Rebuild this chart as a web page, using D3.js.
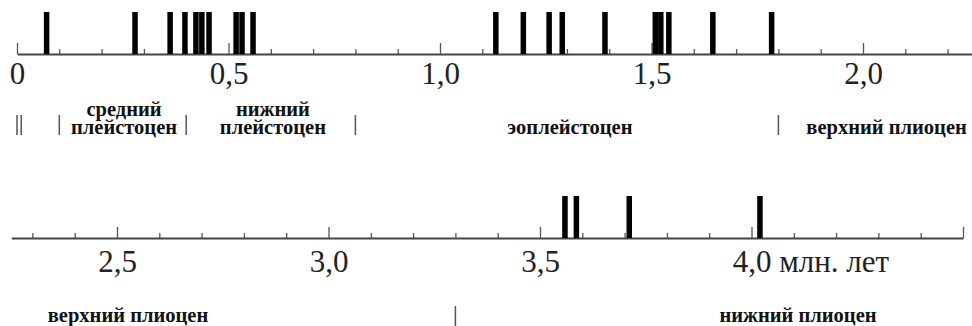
<!DOCTYPE html>
<html>
<head>
<meta charset="utf-8">
<script src="https://cdn.jsdelivr.net/npm/d3@7"></script>
<style>
  html, body { margin: 0; padding: 0; background: #fff; }
  svg { display: block; }
</style>
</head>
<body>
<svg id="chart" width="972" height="326"></svg>
<script>
// ---------- DATA ----------
// Event ages (million years) shown as black bars
const topEvents = [0.070, 0.279, 0.362, 0.397, 0.423, 0.437, 0.454, 0.518, 0.532, 0.558,
                   1.132, 1.197, 1.258, 1.289, 1.390, 1.509, 1.522, 1.541, 1.645, 1.784];
const bottomEvents = [3.559, 3.586, 3.711, 4.020];

// Axis ticks
const topDomain = [0, 2.26];
const bottomDomain = [2.25, 4.5];
const topMajorTicks = [0, 0.5, 1.0, 1.5, 2.0];
const topMajorLabels = ["0", "0,5", "1,0", "1,5", "2,0"];
const topMinorTicks = [0.1, 0.2, 0.3, 0.4, 0.6, 0.7, 0.8, 0.9, 1.1, 1.2, 1.3, 1.4, 1.6, 1.7, 1.8, 1.9, 2.1, 2.2];
const bottomMajorTicks = [2.5, 3.0, 3.5, 4.0, 4.5];
const bottomMajorLabels = ["2,5", "3,0", "3,5", "4,0", ""];
const bottomMinorTicks = [2.3, 2.4, 2.6, 2.7, 2.8, 2.9, 3.1, 3.2, 3.3, 3.4, 3.6, 3.7, 3.8, 3.9, 4.1, 4.2, 4.3, 4.4];
const unitLabel = "млн. лет";
const unitAfterTick = 4.0;

// Stratigraphic boundaries and period names
const topBoundaries = [0, 0.01, 0.1, 0.4, 0.8, 1.8];
const bottomBoundaries = [3.3];
const topPeriodNames = [["средний", "плейстоцен"], ["нижний", "плейстоцен"], ["эоплейстоцен"], ["верхний плиоцен"]];
const topPeriodPos = [0.253, 0.605, 1.307, 1.866];
const topPeriodAnchor = ["middle", "middle", "middle", "start"];
const bottomPeriodNames = [["верхний плиоцен"], ["нижний плиоцен"]];
const bottomPeriodPos = [2.526, 4.110];
const bottomPeriodAnchor = ["middle", "middle"];

// ---------- DRAW ----------
const FONT = "Liberation Serif";
const svg = d3.select("#chart");
const PX = 423; // px per million years

const rows = [
  { domain: topDomain, x0: 17, axisY: 54, events: topEvents,
    major: topMajorTicks, majorLabels: topMajorLabels, minor: topMinorTicks,
    labelPad: 8, bounds: topBoundaries, boundY: [115, 135],
    periods: topPeriodNames, periodPos: topPeriodPos, periodAnchor: topPeriodAnchor, periodBase: 134 },
  { domain: bottomDomain, x0: 11.25, axisY: 238, events: bottomEvents,
    major: bottomMajorTicks, majorLabels: bottomMajorLabels, minor: bottomMinorTicks,
    labelPad: 12, bounds: bottomBoundaries, boundY: [306, 326],
    periods: bottomPeriodNames, periodPos: bottomPeriodPos, periodAnchor: bottomPeriodAnchor, periodBase: 322 }
];

rows.forEach(r => {
  const x = d3.scaleLinear()
    .domain(r.domain)
    .range([r.x0, r.x0 + (r.domain[1] - r.domain[0]) * PX]);

  const g = svg.append("g").attr("transform", `translate(0,${r.axisY})`);

  // minor ticks
  const minorAxis = d3.axisBottom(x).tickValues(r.minor).tickSizeInner(-5).tickSizeOuter(0).tickFormat("");
  const gMin = g.append("g").call(minorAxis);
  gMin.select(".domain").remove();
  gMin.selectAll(".tick line").attr("stroke", "#555").attr("stroke-width", 1.3);

  // major ticks with labels
  const labelMap = new Map(r.major.map((v, i) => [v, r.majorLabels[i]]));
  const majorAxis = d3.axisBottom(x).tickValues(r.major).tickSizeInner(-11).tickSizeOuter(0)
    .tickPadding(r.labelPad).tickFormat(d => labelMap.get(d));
  const gMaj = g.append("g").call(majorAxis);
  gMaj.select(".domain").attr("stroke", "#444").attr("stroke-width", 1.8);
  gMaj.selectAll(".tick line").attr("stroke", "#555").attr("stroke-width", 1.3);
  gMaj.selectAll(".tick text")
    .attr("font-family", FONT)
    .attr("font-size", 31)
    .attr("fill", "#222");
  gMaj.selectAll(".tick").filter(d => d === unitAfterTick).select("text")
    .each(function() {
      const t = d3.select(this);
      const w = this.getComputedTextLength();
      t.attr("text-anchor", "start").attr("x", -w / 2).text(labelMap.get(unitAfterTick) + " " + unitLabel);
    });

  // event bars
  g.append("g").selectAll("rect").data(r.events).join("rect")
    .attr("x", d => x(d) - 2.75)
    .attr("y", -42)
    .attr("width", 5.5)
    .attr("height", 42)
    .attr("fill", "#000");

  // period boundaries
  svg.append("g").selectAll("line").data(r.bounds).join("line")
    .attr("x1", d => x(d)).attr("x2", d => x(d))
    .attr("y1", r.boundY[0]).attr("y2", r.boundY[1])
    .attr("stroke", "#555").attr("stroke-width", 1.5);

  // period names (one text element per line)
  const pg = svg.append("g");
  r.periods.forEach((lines, i) => {
    lines.forEach((ln, j) => {
      pg.append("text")
        .attr("x", x(r.periodPos[i]))
        .attr("y", r.periodBase - (lines.length - 1 - j) * 18)
        .attr("text-anchor", r.periodAnchor[i])
        .attr("font-family", FONT)
        .attr("font-weight", "bold")
        .attr("font-size", 20.5)
        .attr("fill", "#111")
        .text(ln);
    });
  });
});
</script>
</body>
</html>
